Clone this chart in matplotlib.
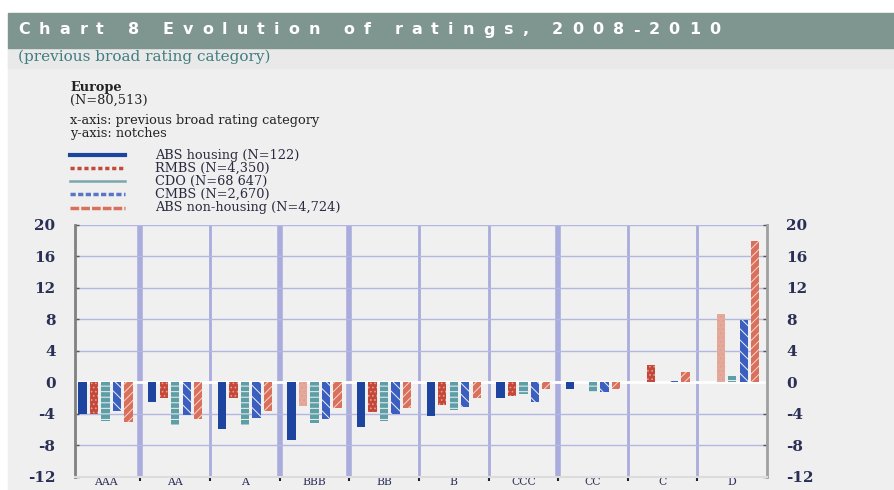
import numpy as np
import matplotlib
matplotlib.use("Agg")
import matplotlib.pyplot as plt
from matplotlib.lines import Line2D
from matplotlib.patches import Rectangle

# Data (notches, by previous broad rating category)
categories = ["AAA", "AA", "A", "BBB", "BB", "B", "CCC", "CC", "C", "D"]
series_names = ["ABS housing (N=122)", "RMBS (N=4,350)", "CDO (N=68 647)",
                "CMBS (N=2,670)", "ABS non-housing (N=4,724)"]
abs_housing = [-4.0, -2.5, -5.9, -7.3, -5.7, -4.3, -2.0, -0.8, 0.0, 0.0]
rmbs = [-4.0, -2.0, -2.0, -3.0, -3.8, -2.9, -1.7, 0.0, 2.2, 8.7]
cdo = [-4.9, -5.4, -5.4, -5.2, -4.9, -3.5, -1.5, -1.2, 0.0, 0.8]
cmbs = [-3.6, -4.2, -4.5, -4.7, -4.0, -3.1, -2.5, -1.3, 0.2, 7.9]
abs_non_housing = [-5.1, -4.7, -3.6, -3.3, -3.3, -2.0, -0.85, -0.8, 1.35, 17.9]
yticks = [-12, -8, -4, 0, 4, 8, 12, 16, 20]

title = "Chart 8 Evolution of ratings, 2008-2010"
subtitle = "(previous broad rating category)"

W, H = 895, 490
plt.rcParams["axes.unicode_minus"] = False
plt.rcParams["hatch.linewidth"] = 0.7


def fx(px):
    return px / W


def fy(py):
    return 1 - py / H


fig = plt.figure(figsize=(W / 100, H / 100), dpi=100, facecolor="white")

# background panels
fig.add_artist(Rectangle((fx(8), 0), 1 - fx(8), fy(48), transform=fig.transFigure,
                         color="#efefef", zorder=-10))
fig.add_artist(Rectangle((fx(8), fy(68)), 1 - fx(8), fy(48) - fy(68), transform=fig.transFigure,
                         color="#e9e9e9", zorder=-9))
fig.add_artist(Rectangle((fx(8), fy(48)), 1 - fx(8), fy(13) - fy(48), transform=fig.transFigure,
                         color="#7f958f", zorder=-8))

# title with wide letter spacing, as in the scan
renderer = fig.canvas.get_renderer()
chars = []
for ch in title:
    t = fig.text(0, fy(30), ch, color="white", fontsize=11.5, fontweight="bold",
                 family="DejaVu Sans", va="center", ha="left")
    chars.append(t)
widths = [t.get_window_extent(renderer).width for t in chars]
gap = (702 - sum(widths)) / (len(chars) - 1)
xpos = 18
for t, w in zip(chars, widths):
    t.set_x(fx(xpos))
    xpos += w + gap

fig.text(fx(18), fy(57), subtitle, color="#3f7d80", fontsize=11,
         family="DejaVu Serif", va="center", ha="left")

# notes block
note_kw = dict(fontsize=9.3, family="DejaVu Serif", va="center", color="#222222")
fig.text(fx(70), fy(87), "Europe", fontweight="bold", **note_kw)
fig.text(fx(70), fy(100), "(N=80,513)", **note_kw)
fig.text(fx(70), fy(120.5), "x-axis: previous broad rating category", **note_kw)
fig.text(fx(70), fy(133.5), "y-axis: notches", **note_kw)

# legend drawn by hand
leg_styles = [
    dict(color="#1d45a0", lw=3, ls="-"),
    dict(color="#c4483a", lw=2.5, ls=(0, (1.2, 0.8))),
    dict(color="#7aa6ac", lw=1.8, ls="-"),
    dict(color="#5a74c8", lw=2.5, ls=(0, (1.5, 0.7))),
    dict(color="#d9705c", lw=2.5, ls=(0, (2.5, 0.6))),
]
leg_y = [155.5, 168.5, 181.5, 194.5, 207.5]
for name, st, y in zip(series_names, leg_styles, leg_y):
    fig.add_artist(Line2D([fx(70), fx(125)], [fy(y), fy(y)], transform=fig.transFigure, **st))
    fig.text(fx(155), fy(y), name, fontsize=9.3, family="DejaVu Serif",
             va="center", ha="left", color="#2a2a40")

# plot area
ax = fig.add_axes([fx(75), fy(476.7), fx(767) - fx(75), (476.7 - 224.7) / H])
ax.set_facecolor("#f0f0f0")
ax.set_xlim(-0.44, 9.5)
ax.set_ylim(-12, 20)

x = np.arange(len(categories))
slot = 0.165
bw = 0.12
rmbs_colors = ["#c4483a"] * len(categories)
rmbs_colors[3] = "#e3aa9c"
rmbs_colors[9] = "#e3aa9c"

ax.bar(x - 2 * slot, abs_housing, bw, color="#1d45a0", linewidth=0, zorder=3)
ax.bar(x - slot, rmbs, bw, color=rmbs_colors, edgecolor="#e89a8c", hatch="....",
       linewidth=0, zorder=3)
ax.bar(x, cdo, bw, color="#5e9ea6", edgecolor="#f0f0f0", hatch="---",
       linewidth=0, zorder=3)
ax.bar(x + slot, cmbs, bw, color="#3a5fc0", edgecolor="#f0f0f0", hatch="\\\\\\",
       linewidth=0, zorder=3)
ax.bar(x + 2 * slot, abs_non_housing, bw, color="#d9705c", edgecolor="#f6d8d0",
       hatch="////", linewidth=0, zorder=3)

# grid and separators
ax.set_yticks(yticks)
ax.grid(axis="y", color="#b4b7e2", lw=1, zorder=1)
thick = [0.5, 2.5, 3.5, 6.5]
for s in np.arange(0.5, 9, 1):
    ax.axvline(s, color="#a9acdc", lw=4 if s in thick else 2, zorder=1)
ax.axhline(0, color="white", lw=2, zorder=2.5)

# ticks
ax.set_xticks(x)
ax.set_xticklabels(categories, family="DejaVu Serif", fontsize=7.8, color="#2a2f55",
                   va="top")
ax.set_xticks(np.arange(0.5, 9, 1), minor=True)
ax.tick_params(axis="x", which="major", length=0, pad=0.5)
ax.tick_params(axis="x", which="minor", length=3, width=1.5, color="#222222")
ax.tick_params(axis="y", left=True, right=True, labelleft=True, labelright=True,
               direction="in", length=3, width=1, color="#555555", pad=14,
               labelsize=11, labelcolor="#2a2f55")
for lab in ax.get_yticklabels():
    lab.set_family("DejaVu Serif")
    lab.set_fontweight("bold")

ax.spines["top"].set_visible(False)
ax.spines["bottom"].set_color("#dcdcdc")
ax.spines["bottom"].set_linewidth(1.5)
ax.spines["left"].set_color("#808080")
ax.spines["left"].set_linewidth(2)
ax.spines["right"].set_color("#a0a0a0")
ax.spines["right"].set_linewidth(2)

fig.savefig("out.png", dpi=100, facecolor=fig.get_facecolor())
